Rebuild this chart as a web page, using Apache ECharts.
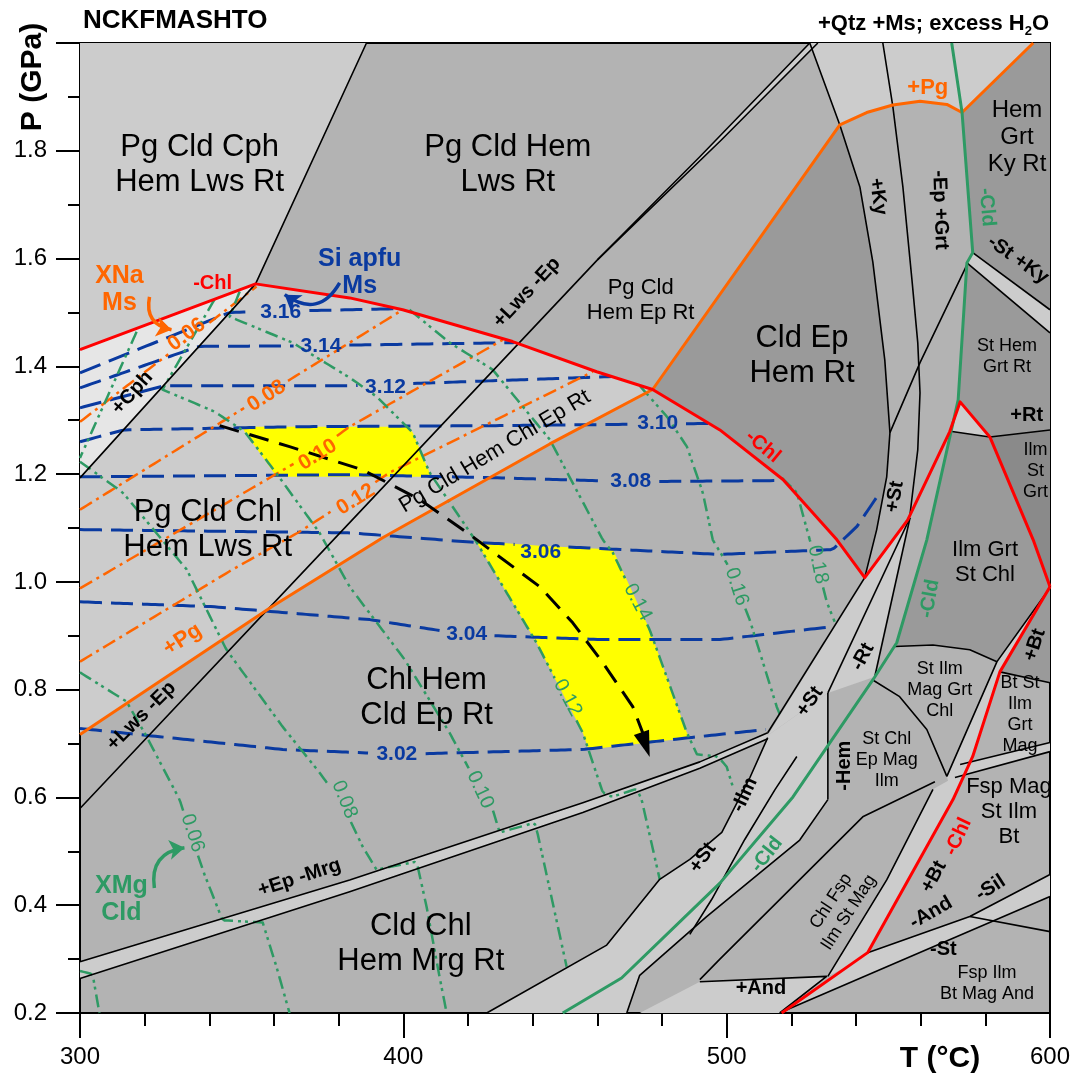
<!DOCTYPE html>
<html>
<head>
<meta charset="utf-8">
<script src="https://cdn.jsdelivr.net/npm/echarts@6/dist/echarts.min.js"></script>
<style>
html,body{margin:0;padding:0;background:#fff;}
#chart{width:1075px;height:1080px;}
</style>
</head>
<body>
<div id="chart"></div>
<script>
// P–T pseudosection, NCKFMASHTO. All geometry in T (°C) and P (GPa).

// ---------- axis ticks ----------
const tempTicks = [300, 400, 500, 600];
const presTicks = [0.2, 0.4, 0.6, 0.8, 1.0, 1.2, 1.4, 1.6, 1.8];

// ---------- assemblage fields (polygons) ----------
const fieldCphTop = [[300,2.0],[388.6,2.0],[354.3,1.553],[300,1.431]];
const fieldCphChl = [[300,1.431],[354.3,1.553],[300,1.193]];
const fieldPgChl = [[300,1.193],[354.3,1.553],[383.4,1.527],[399.8,1.505],[433.8,1.446],[459.8,1.390],[477.1,1.357],[445.3,1.256],[393.6,1.082],[359.3,0.954],[300,0.717]];
const fieldCldEpHemRt = [[477.1,1.357],[535.0,1.848],[541.2,1.733],[545.2,1.594],[548.9,1.412],[550.5,1.277],[549.5,1.195],[546.4,1.097],[542.7,1.008],[534.1,1.078],[517.4,1.190],[497.9,1.282]];
const fieldAbovePg = [[525.7,2.0],[594.8,2.0],[572.8,1.871],[568.1,1.886],[559.8,1.892],[551.4,1.885],[543.3,1.871],[535.0,1.848]];
const fieldHemGrtKyRt = [[572.8,1.871],[594.8,2.0],[600,2.0],[600,1.505],[576.1,1.611]];
const bandStKy = [[576.1,1.611],[600,1.505],[600,1.462],[574.3,1.592]];
const fieldStHemGrtRt = [[574.3,1.592],[600,1.462],[600,1.282],[581.4,1.269],[572.2,1.334],[571.6,1.338],[572.8,1.468]];
const fieldRtWedge = [[571.6,1.338],[572.2,1.334],[581.4,1.269],[569.7,1.279]];
const fieldIlmStGrt = [[581.4,1.269],[600,1.282],[600,0.991],[594.8,1.078]];
const fieldIlmGrtStChl = [[569.7,1.279],[581.4,1.269],[594.8,1.078],[600,0.991],[583.6,0.852],[575.2,0.874],[563.8,0.883],[552.0,0.880],[561.9,1.078]];
const bandBt = [[600,0.989],[583.6,0.852],[568.1,0.639],[570.0,0.596],[576.1,0.676],[584.5,0.833]];
const fieldBtSliver = [[600,0.989],[584.5,0.833],[600,0.813]];
const bandLwsEp = [[460.1,1.598],[491.7,1.789],[525.7,2.0],[528.2,2.0],[498.5,1.821]];
const bandEpMrg = [[300,0.295],[383.4,0.447],[455.5,0.590],[491.7,0.666],[512.7,0.720],[512.7,0.709],[491.7,0.654],[455.5,0.572],[383.4,0.425],[300,0.264]];
const bandStUpper = [[542.7,1.008],[556.7,1.119],[545.8,0.824],[531.3,0.794],[512.7,0.715]];
const bandStLower = [[512.7,0.715],[507.2,0.637],[498.5,0.535],[488.6,0.485],[479.3,0.448],[462.9,0.326],[425.8,0.2],[469.1,0.2],[473.1,0.270],[493.8,0.379],[522.6,0.521],[531.3,0.596],[531.3,0.794]];
const bandFsp = [[572.2,0.661],[600,0.702],[600,0.685],[570.6,0.637]];
const bandBtLow = [[531.3,0.268],[549.5,0.447],[563.8,0.615],[569.0,0.633],[570.0,0.596],[543.6,0.312],[536.5,0.284]];
const bandAnd = [[543.6,0.312],[575.2,0.379],[600,0.457],[600,0.416],[517.0,0.202]];
const bandAndIn = [[491.7,0.258],[530.9,0.268],[516.4,0.2],[473.1,0.2]];
const yellowUpper = [[350.3,1.288],[401.3,1.288],[402.9,1.277],[408.1,1.203],[408.8,1.195],[360.8,1.195],[350.9,1.279]];
const yellowLower = [[422.4,1.076],[442.2,1.067],[464.8,1.060],[476.2,0.911],[487.7,0.720],[488.6,0.711],[457.3,0.689],[455.5,0.720],[441.2,0.887]];

// ---------- black reaction lines ----------
const cphLine = [[300,1.193],[354.3,1.553],[388.6,2.0]];
const lwsEpLine = [[300.2,0.581],[383.4,1.110],[460.1,1.598],[491.7,1.789],[525.7,2.0]];
const lwsEpLine2 = [[460.1,1.598],[498.5,1.821],[528.2,2.0]];
const epMrgUpper = [[300,0.295],[383.4,0.447],[455.5,0.590],[491.7,0.666],[512.7,0.720]];
const epMrgLower = [[300,0.264],[383.4,0.425],[455.5,0.572],[491.7,0.654],[512.7,0.709]];
const kyLine = [[525.7,2.0],[535.0,1.848],[541.2,1.733],[545.2,1.594],[548.9,1.412],[550.5,1.277],[549.5,1.195],[546.4,1.097],[542.7,1.008]];
const grtLine = [[548.3,2.0],[551.4,1.882],[554.5,1.733],[557.3,1.561],[559.1,1.444],[559.8,1.351],[559.1,1.245],[556.7,1.125]];
const diagLine = [[574.6,1.592],[559.8,1.407],[550.5,1.277]];
const stKyUpper = [[576.1,1.611],[600,1.505]];
const stKyLower = [[574.3,1.592],[600,1.462]];
const rtLine = [[569.7,1.279],[581.4,1.269],[600,1.282]];
const stBandA = [[542.7,1.008],[512.7,0.720]];
const stBandB = [[556.7,1.119],[531.3,0.794]];
const rtWedgeLine = [[556.7,1.119],[545.8,0.824]];
const hemLine = [[531.3,0.794],[531.3,0.596]];
const arcChl = [[545.2,0.818],[553.5,0.787],[561.9,0.726],[568.1,0.639]];
const arcGrt = [[552.0,0.880],[563.8,0.883],[575.2,0.874],[583.6,0.852]];
const btLine = [[600,0.989],[583.6,0.852],[568.1,0.639]];
const btTop = [[584.5,0.833],[600,0.813]];
const fspUpper = [[572.2,0.661],[600,0.702]];
const fspLower = [[570.6,0.637],[600,0.685]];
const lowerStLine = [[512.7,0.711],[507.2,0.637],[498.5,0.535],[488.6,0.485],[479.3,0.448],[462.9,0.326],[425.8,0.2]];
const lowerStRight = [[531.3,0.596],[522.6,0.521],[493.8,0.379],[473.1,0.270],[469.1,0.2]];
const ilmLine = [[521.7,0.676],[514.9,0.614],[505.6,0.522],[495.4,0.411],[488.6,0.346]];
const chlFspLeft = [[491.7,0.262],[497.9,0.300],[542.1,0.564],[564.4,0.629]];
const chlFspRight = [[531.3,0.268],[549.5,0.447],[563.8,0.615]];
const andInLine = [[491.7,0.258],[530.9,0.268],[516.4,0.2]];
const andLine = [[543.6,0.312],[575.2,0.379],[600,0.457]];
const silLine = [[575.2,0.379],[600,0.351]];
const stOutLine = [[517.0,0.202],[600,0.416]];

// ---------- coloured boundaries ----------
const chlOutUpper = [[300,1.431],[354.3,1.553],[383.4,1.527],[399.8,1.505],[433.8,1.446],[459.8,1.390],[477.1,1.357],[497.9,1.282],[517.4,1.190],[534.1,1.078],[542.7,1.008],[556.0,1.115],[569.0,1.279],[572.2,1.334],[581.4,1.269],[594.8,1.078],[600,0.991]];
const chlOutLower = [[600,0.991],[584.5,0.833],[576.1,0.676],[570.0,0.596],[543.6,0.312],[517.0,0.2]];
const pgInLine = [[300,0.717],[359.3,0.954],[393.6,1.082],[445.3,1.256],[477.1,1.357],[535.0,1.848],[543.3,1.871],[551.4,1.885],[559.8,1.892],[568.1,1.886],[572.8,1.871],[594.8,2.0]];
const cldOutLine = [[569.6,2.0],[572.8,1.871],[576.1,1.611],[574.3,1.592],[571.6,1.338],[561.9,1.078],[552.6,0.887],[545.2,0.818],[520.5,0.601],[497.9,0.441],[467.5,0.265],[449.3,0.2]];

// ---------- Si apfu in Ms isopleths ----------
const si316 = [[300,1.388],[346.3,1.500],[367.9,1.503],[398.9,1.507]];
const si314 = [[300,1.360],[336.7,1.437],[367.9,1.438],[434.4,1.444]];
const si312 = [[300,1.323],[326.1,1.364],[383.4,1.364],[464.5,1.381]];
const si310 = [[300,1.260],[313.5,1.282],[367.9,1.288],[429.8,1.290],[496.0,1.294]];
const si308 = [[300,1.195],[383.4,1.199],[429.8,1.193],[470.0,1.186],[516.4,1.188]];
const si306 = [[300,1.097],[383.4,1.091],[422.7,1.073],[497.9,1.051],[532.8,1.060],[540.3,1.103],[547.4,1.166]];
const si304 = [[300,0.963],[341.0,0.954],[389.6,0.930],[419.6,0.902],[460.7,0.893],[497.9,0.893],[532.8,0.917]];
const si302 = [[300,0.728],[362.7,0.689],[398.9,0.680],[455.5,0.689],[491.7,0.713],[512.1,0.726]];

// ---------- XNa in Ms isopleths ----------
const xna006 = [[300,1.297],[354.6,1.548]];
const xna008 = [[300,1.134],[356.5,1.344],[399.8,1.505]];
const xna010 = [[300,0.988],[373.5,1.245],[383.4,1.288],[430.7,1.449]];
const xna012 = [[300,0.852],[347.2,1.023],[367.9,1.093],[383.4,1.153],[395.8,1.203],[458.6,1.390]];

// ---------- XMg in Cld isopleths ----------
const xmg004 = [[300,0.278],[303.9,0.272],[306.0,0.2]];
const xmgCph = [[317.5,1.464],[300,1.230]];
const xmg006 = [[300,0.832],[314.4,0.778],[320.6,0.713],[330.8,0.596],[334.5,0.527],[338.5,0.457],[344.1,0.372],[356.5,0.368],[360.8,0.285],[364.8,0.2]];
const xmg008 = [[300,1.223],[313.2,1.166],[333.0,1.023],[345.3,0.874],[362.7,0.731],[374.1,0.646],[381.2,0.587],[387.4,0.509],[391.7,0.466],[404.1,0.481],[407.2,0.397],[411.2,0.267],[413.4,0.2]];
const xmg010 = [[341.6,1.524],[325.5,1.357],[341.6,1.316],[350.9,1.279],[360.8,1.201],[374.1,1.091],[383.4,0.991],[400.4,0.856],[414.3,0.720],[420.5,0.651],[426.7,0.596],[429.8,0.535],[440.6,0.553],[441.6,0.531],[450.5,0.286]];
const xmg012 = [[349.4,1.539],[346.3,1.492],[365.7,1.444],[383.4,1.379],[391.7,1.344],[402.9,1.277],[408.1,1.203],[422.4,1.076],[441.2,0.887],[455.5,0.720],[461.7,0.609],[464.5,0.601],[472.2,0.616],[473.7,0.596],[479.3,0.448]];
const xmg014 = [[401.9,1.505],[414.3,1.444],[427.6,1.394],[445.3,1.264],[461.7,1.078],[464.8,1.054],[476.2,0.911],[487.7,0.720],[490.8,0.680],[497.3,0.676],[500.0,0.657],[501.9,0.620]];
const xmg016 = [[473.1,1.364],[481.5,1.307],[487.7,1.251],[492.6,1.166],[495.7,1.078],[500.0,1.035],[503.1,0.991],[507.1,0.930],[515.5,0.768],[516.4,0.755]];
const xmg018 = [[517.1,1.193],[521.7,1.166],[525.7,1.078],[527.9,1.035],[531.0,0.962],[533.4,0.926]];

// ---------- P–T path ----------
const ptPath = [[343.2,1.290],[364.8,1.251],[387.4,1.208],[405.0,1.153],[420.5,1.088],[442.2,0.991],[452.4,0.924],[461.7,0.850],[471.0,0.768],[476.2,0.675]];

// ---------- text (T, P, text, rotation°) ----------
const bigFieldLabels = [
  [337.0,1.774,'Pg Cld Cph\nHem Lws Rt',0],
  [432.3,1.774,'Pg Cld Hem\nLws Rt',0],
  [339.5,1.097,'Pg Cld Chl\nHem Lws Rt',0],
  [407.2,0.785,'Chl Hem\nCld Ep Rt',0],
  [523.3,1.420,'Cld Ep\nHem Rt',0],
  [405.4,0.329,'Cld Chl\nHem Mrg Rt',0]
];
const midFieldLabels = [
  [473.4,1.522,'Pg Cld\nHem Ep Rt',0],
  [428.3,1.242,'Pg Cld Hem Chl Ep Rt',31],
  [579.9,1.036,'Ilm Grt\nSt Chl',0],
  [587.3,0.5735,'Fsp Mag\nSt Ilm\nBt',0]
];
const kyFieldLabel = [[589.8,1.824,'Hem\nGrt\nKy Rt',0]];
const smallFieldLabels = [
  [586.7,1.418,'St Hem\nGrt Rt',0],
  [595.5,1.206,'Ilm\nSt\nGrt',0],
  [565.9,0.800,'St Ilm\nMag Grt\nChl',0],
  [590.7,0.7535,'Bt St\nIlm\nGrt\nMag',0],
  [549.5,0.670,'St Chl\nEp Mag\nIlm',0],
  [535.0,0.397,'Chl Fsp\nIlm St Mag',57],
  [580.5,0.254,'Fsp Ilm\nBt Mag And',0]
];
const reactionLabels = [
  [316.2,1.351,'+Cph',48],
  [438.2,1.537,'+Lws -Ep',47],
  [319.0,0.751,'+Lws -Ep',45],
  [367.9,0.451,'+Ep -Mrg',18],
  [546.8,1.715,'+Ky',-82],
  [566.0,1.690,'-Ep +Grt',-88],
  [590.1,1.598,'-St +Ky',-35],
  [592.8,1.308,'+Rt',0],
  [552.0,1.158,'+St',80],
  [542.1,0.861,'-Rt',62],
  [525.7,0.778,'+St',55],
  [536.5,0.659,'-Hem',90],
  [505.6,0.605,'-Ilm',65],
  [492.6,0.488,'+St',55],
  [595.3,0.883,'+Bt',72],
  [564.1,0.453,'+Bt',62],
  [563.2,0.386,'-And',30],
  [581.6,0.432,'-Sil',33],
  [510.6,0.245,'+And',0],
  [567.0,0.317,'-St',0]
];
const redLabels = [[341.0,1.553,'-Chl',0],[511.2,1.251,'-Chl',-40],[571.6,0.527,'-Chl',65]];
const greenLabels = [[580.5,1.695,'-Cld',-85],[562.8,0.969,'-Cld',80],[512.4,0.494,'-Cld',52]];
const orangeLabels = [[562.2,1.917,'+Pg',0],[331.7,0.893,'+Pg',33]];
const siLabels = [[362.1,1.500,'3.16',0],[374.5,1.438,'3.14',0],[394.5,1.362,'3.12',0],[478.7,1.295,'3.10',0],[470.3,1.186,'3.08',0],[442.5,1.056,'3.06',0],[419.6,0.902,'3.04',0],[398.0,0.680,'3.02',0]];
const xnaLabels = [[333.0,1.459,'0.06',37],[357.7,1.345,'0.08',33],[373.5,1.236,'0.10',32],[385.3,1.153,'0.12',32]];
const xmgLabels = [[334.8,0.534,'0.06',-72],[381.8,0.596,'0.08',-68],[423.8,0.614,'0.10',-65],[450.8,0.785,'0.12',-62],[472.5,0.962,'0.14',-62],[503.1,0.991,'0.16',-72],[528.2,1.032,'0.18',-78]];
const noteLabels = [
  [312.2,1.543,'XNa\nMs','#ff6600'],
  [386.5,1.574,'Si apfu\nMs','#0a3aa0'],
  [312.8,0.410,'XMg\nCld','#2e9a64']
];
const noteArrows = [
  {from:[321.5,1.529], to:[328.3,1.468], color:'#ff6600', curve:-0.5},
  {from:[380.3,1.555], to:[363.3,1.533], color:'#0a3aa0', curve:0.55},
  {from:[323.0,0.432], to:[332.3,0.5065], color:'#2e9a64', curve:0.5}
];

// ---------- styling ----------
const FONT = '"Liberation Sans", Arial, Helvetica, sans-serif';
const C_LIGHT = '#cccccc', C_PALE = '#e6e6e6', C_MID = '#b3b3b3', C_DARK = '#9a9a9a', C_DARKER = '#8a8a8a';
const C_RED = '#ff0000', C_ORANGE = '#ff6600', C_GREEN = '#2e9a64', C_BLUE = '#0a3aa0';
const DASH_SI = [22, 9];
const DASH_XNA = [14, 5, 3, 5];
const DASH_XMG = [13, 5, 3, 4, 3, 5];

// grid geometry (pixels per unit) used to open gaps in isopleths under their labels
const GRID = { left: 80, right: 25, top: 43, bottom: 67 };
const PX_T = (1075 - GRID.left - GRID.right) / 300;
const PX_P = (1080 - GRID.top - GRID.bottom) / 1.8;

function gapLine(pts, labels, r) {
  const out = [];
  let prevIn = false;
  for (let i = 0; i < pts.length - 1; i++) {
    const a = pts[i], b = pts[i + 1];
    const len = Math.hypot((b[0] - a[0]) * PX_T, (b[1] - a[1]) * PX_P);
    const n = Math.max(1, Math.ceil(len / 2));
    for (let k = (i === 0 ? 0 : 1); k <= n; k++) {
      const t = k / n;
      const p = [a[0] + (b[0] - a[0]) * t, a[1] + (b[1] - a[1]) * t];
      const inside = labels.some(c => Math.hypot((p[0] - c[0]) * PX_T, (p[1] - c[1]) * PX_P) < r);
      if (inside) { if (!prevIn) out.push([p[0], '-']); prevIn = true; }
      else { out.push(p); prevIn = false; }
    }
  }
  return out;
}

function polygonSeries(polys, color, z) {
  return {
    type: 'custom', silent: true, animation: false, z: z, clip: true,
    data: polys.map(p => [p[0][0], p[0][1]]),
    encode: { x: 0, y: 1 },
    renderItem: (params, api) => ({
      type: 'polygon',
      shape: { points: polys[params.dataIndex].map(v => api.coord(v)) },
      style: { fill: color }
    })
  };
}

function lineSeries(pts, color, width, dash, z) {
  return {
    type: 'line', data: pts, showSymbol: false, symbol: 'none', silent: true, connectNulls: false,
    animation: false, z: z || 5, clip: true,
    lineStyle: { color: color, width: width, type: dash || 'solid', cap: 'butt', join: 'round' }
  };
}

function labelSeries(items, font, color, lineHeight, z) {
  return {
    type: 'custom', silent: true, animation: false, z: z || 20, clip: false,
    data: items.map(d => [d[0], d[1]]),
    encode: { x: 0, y: 1 },
    renderItem: (params, api) => {
      const d = items[params.dataIndex];
      const p = api.coord([d[0], d[1]]);
      return {
        type: 'text', x: p[0], y: p[1], rotation: (d[3] || 0) * Math.PI / 180,
        style: { text: d[2], font: font, fill: color, align: 'center', verticalAlign: 'middle', lineHeight: lineHeight }
      };
    }
  };
}

const series = [
  polygonSeries([fieldCphTop, fieldPgChl, fieldAbovePg, bandLwsEp, bandEpMrg, bandStKy, fieldRtWedge, bandBt,
                 bandStUpper, bandStLower, bandFsp, bandBtLow, bandAnd, bandAndIn], C_LIGHT, 1),
  polygonSeries([fieldCphChl], C_PALE, 1),
  polygonSeries([fieldCldEpHemRt, fieldHemGrtKyRt, fieldStHemGrtRt, fieldIlmGrtStChl, fieldBtSliver], C_DARK, 1),
  polygonSeries([fieldIlmStGrt], C_DARKER, 1),
  polygonSeries([yellowUpper, yellowLower], '#ffff00', 2)
];

// black boundaries
[cphLine, lwsEpLine, lwsEpLine2, epMrgUpper, epMrgLower, kyLine, grtLine, diagLine, stKyUpper, stKyLower, rtLine,
 stBandA, stBandB, rtWedgeLine, hemLine, arcChl, arcGrt, btLine, btTop, fspUpper, fspLower, lowerStLine, lowerStRight,
 ilmLine, chlFspLeft, chlFspRight, andInLine, andLine, silLine, stOutLine]
  .forEach(l => series.push(lineSeries(l, '#000', 1.6, 'solid', 6)));

// isopleths, opened where their value labels sit
[si316, si314, si312, si310, si308, si306, si304, si302]
  .forEach(l => series.push(lineSeries(gapLine(l, siLabels, 27), C_BLUE, 3, DASH_SI, 4)));
[xna006, xna008, xna010, xna012]
  .forEach(l => series.push(lineSeries(gapLine(l, xnaLabels, 25), C_ORANGE, 2.5, DASH_XNA, 4)));
[xmg004, xmgCph, xmg006, xmg008, xmg010, xmg012, xmg014, xmg016, xmg018]
  .forEach(l => series.push(lineSeries(gapLine(l, xmgLabels, 23), C_GREEN, 2.5, DASH_XMG, 4)));

// coloured phase boundaries
series.push(lineSeries(pgInLine, C_ORANGE, 3, 'solid', 7));
series.push(lineSeries(cldOutLine, C_GREEN, 3, 'solid', 7));
series.push(lineSeries(chlOutUpper, C_RED, 3, 'solid', 8));
series.push(lineSeries(chlOutLower, C_RED, 3, 'solid', 8));

// P–T path and its arrow head
series.push(lineSeries(ptPath.slice(0, -1).concat([[475.3, 0.700]]), '#000', 3, [20, 11], 9));
series.push({
  type: 'custom', silent: true, animation: false, z: 9, clip: false,
  data: [ptPath[ptPath.length - 1]], encode: { x: 0, y: 1 },
  renderItem: (params, api) => {
    const tip = api.coord(ptPath[ptPath.length - 1]);
    const back = api.coord(ptPath[ptPath.length - 2]);
    const dx = tip[0] - back[0], dy = tip[1] - back[1];
    const L = Math.hypot(dx, dy), ux = dx / L, uy = dy / L;
    const len = 26, half = 8;
    const bx = tip[0] - ux * len, by = tip[1] - uy * len;
    return { type: 'polygon', shape: { points: [tip, [bx - uy * half, by + ux * half], [bx + uy * half, by - ux * half]] }, style: { fill: '#000' } };
  }
});

// annotation arrows
noteArrows.forEach(a => series.push({
  type: 'lines', coordinateSystem: 'cartesian2d', silent: true, animation: false, z: 9,
  symbol: ['none', 'arrow'], symbolSize: 15,
  lineStyle: { color: a.color, width: 3.5, curveness: a.curve, opacity: 1 },
  data: [{ coords: [a.from, a.to] }]
}));

// labels
series.push(labelSeries(bigFieldLabels, '31px ' + FONT, '#000', 35));
series.push(labelSeries(midFieldLabels, '22px ' + FONT, '#000', 25));
series.push(labelSeries(kyFieldLabel, '24px ' + FONT, '#000', 27));
series.push(labelSeries(smallFieldLabels, '18px ' + FONT, '#000', 21));
series.push(labelSeries(reactionLabels, 'bold 20px ' + FONT, '#000', 22));
series.push(labelSeries(redLabels, 'bold 20px ' + FONT, C_RED, 22));
series.push(labelSeries(greenLabels, 'bold 20px ' + FONT, C_GREEN, 22));
series.push(labelSeries(orangeLabels, 'bold 22px ' + FONT, C_ORANGE, 22));
series.push(labelSeries(siLabels, 'bold 21px ' + FONT, C_BLUE, 22));
series.push(labelSeries(xnaLabels, 'bold 21px ' + FONT, C_ORANGE, 22));
series.push(labelSeries(xmgLabels, '20px ' + FONT, C_GREEN, 22));
noteLabels.forEach(n => series.push(labelSeries([[n[0], n[1], n[2], 0]], 'bold 25px ' + FONT, n[3], 27)));

const chart = echarts.init(document.getElementById('chart'), null, { renderer: 'canvas' });
chart.setOption({
  animation: false,
  backgroundColor: '#ffffff',
  grid: { left: GRID.left, right: GRID.right, top: GRID.top, bottom: GRID.bottom, show: true, backgroundColor: C_MID, borderColor: '#000', borderWidth: 2 },
  xAxis: {
    type: 'value', min: 300, max: 600, interval: 100,
    axisLine: { show: true, onZero: false, lineStyle: { color: '#000', width: 2 } },
    axisTick: { show: true, length: 25, lineStyle: { color: '#000', width: 2 } },
    minorTick: { show: true, splitNumber: 5, length: 13, lineStyle: { color: '#000', width: 2 } },
    splitLine: { show: false },
    axisLabel: { margin: 32, fontSize: 24, color: '#000', fontFamily: FONT,
      formatter: v => tempTicks.indexOf(Math.round(v)) >= 0 ? String(Math.round(v)) : '' }
  },
  yAxis: {
    type: 'value', min: 0.2, max: 2.0, interval: 0.2,
    axisLine: { show: true, onZero: false, lineStyle: { color: '#000', width: 2 } },
    axisTick: { show: true, length: 24, lineStyle: { color: '#000', width: 2 } },
    minorTick: { show: true, splitNumber: 2, length: 12, lineStyle: { color: '#000', width: 2 } },
    splitLine: { show: false },
    axisLabel: { margin: 33, fontSize: 24, color: '#000', fontFamily: FONT,
      formatter: v => presTicks.some(t => Math.abs(t - v) < 1e-6) ? v.toFixed(1) : '' }
  },
  graphic: [
    { type: 'text', x: 83, y: 21, z: 50, style: { text: 'NCKFMASHTO', font: 'bold 26px ' + FONT, fill: '#000', verticalAlign: 'middle', align: 'left' } },
    { type: 'text', x: 1049, y: 24, z: 50, style: {
        text: '+Qtz +Ms; excess H{s|2}O', font: 'bold 22px ' + FONT, fill: '#000', align: 'right', verticalAlign: 'middle',
        rich: { s: { fontSize: 13, fontWeight: 'bold', fontFamily: FONT, verticalAlign: 'bottom', lineHeight: 28, fill: '#000' } } } },
    { type: 'text', x: 33, y: 77, rotation: Math.PI / 2, z: 50, style: { text: 'P (GPa)', font: 'bold 30px ' + FONT, fill: '#000', align: 'center', verticalAlign: 'middle' } },
    { type: 'text', x: 940, y: 1059, z: 50, style: { text: 'T (°C)', font: 'bold 30px ' + FONT, fill: '#000', align: 'center', verticalAlign: 'middle' } }
  ],
  series: series
});
</script>
</body>
</html>
